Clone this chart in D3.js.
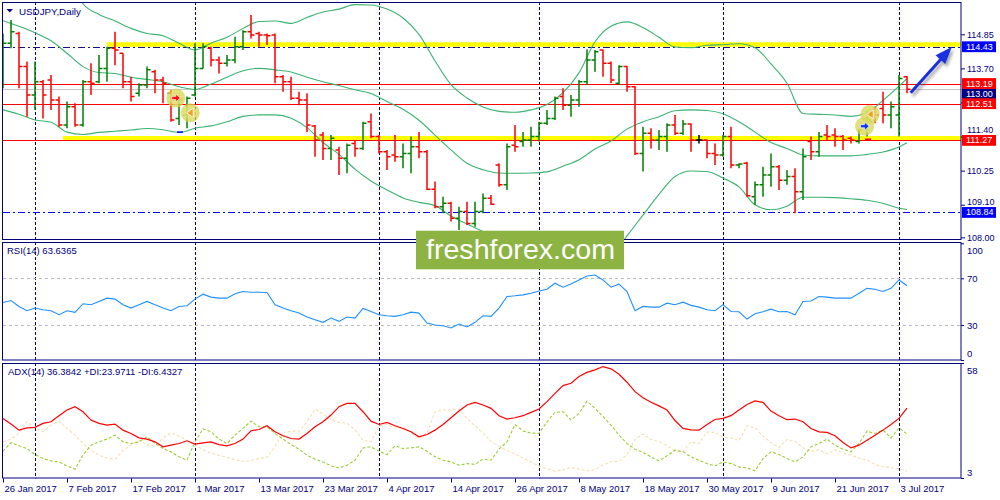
<!DOCTYPE html>
<html>
<head>
<meta charset="utf-8">
<title>USDJPY Daily</title>
<script src="https://cdn.jsdelivr.net/npm/d3@7/dist/d3.min.js"></script>
<style>
html,body{margin:0;padding:0;background:#fff;}
svg{display:block;}
text{font-family:"Liberation Sans",Arial,sans-serif;}
</style>
</head>
<body>
<svg id="chart" width="1000" height="500"></svg>
<script>
// ================= DATA =================
const chartTitle = "USDJPY,Daily";
const rsiTitle = "RSI(14) 63.6365";
const adxTitle = "ADX(14) 36.3842 +DI:23.9711 -DI:6.4327";
const watermark = "freshforex.com";

// daily OHLC, 26 Jan 2017 .. 4 Jul 2017 (one per trading day)
const opens = [113.76,114.55,114.88,113.76,112.80,113.25,113.31,112.63,111.79,112.41,
111.79,113.25,113.25,113.70,114.38,114.21,113.25,112.86,113.14,113.59,
113.31,112.86,112.01,112.13,112.80,113.70,114.38,113.98,113.87,113.98,
114.43,114.94,114.88,114.83,114.83,113.42,113.25,112.69,112.63,111.76,
111.45,111.00,110.95,110.67,111.17,111.00,111.90,111.40,110.89,110.78,
110.72,110.83,111.06,110.89,109.62,109.03,109.15,108.64,108.87,108.47,
108.87,109.32,110.44,109.77,111.11,111.23,111.28,111.40,111.85,112.01,
112.75,112.46,112.63,113.25,113.98,114.32,113.87,113.20,113.76,113.08,
110.83,111.51,111.28,111.40,111.79,111.51,111.82,111.28,111.28,110.83,
110.78,111.40,110.44,110.50,109.37,109.77,110.10,110.38,109.93,110.05,
109.54,111.23,110.89,111.45,111.45,111.40,111.34,111.23,111.73,112.30,
112.35,112.13,112.13,113.42];
const highs = [114.88,115.33,114.94,113.93,113.93,113.31,113.48,112.75,112.58,112.52,
113.31,113.87,114.15,114.43,114.94,114.21,113.42,113.20,113.76,113.65,
113.42,112.97,112.80,112.75,114.55,114.55,114.43,114.10,114.15,114.77,
114.99,115.50,114.94,114.88,114.88,113.48,113.42,112.91,112.86,111.79,
111.55,111.45,111.06,111.17,111.28,111.90,112.18,111.45,110.95,111.45,
111.17,111.40,111.55,110.95,109.88,109.37,109.20,109.03,109.20,109.20,
109.48,109.43,110.50,111.17,111.79,111.55,111.73,111.90,112.30,112.75,
113.03,112.80,113.31,114.34,114.32,114.34,113.93,113.81,113.78,113.11,
111.73,111.68,111.62,111.85,112.13,111.96,111.85,111.45,111.30,111.17,
111.45,111.73,110.50,110.55,109.88,110.38,110.83,110.44,110.27,110.33,
111.00,111.40,111.55,111.79,111.68,111.45,111.40,111.68,112.30,112.41,
112.91,112.58,113.48,113.44];
const lows = [113.03,114.38,113.03,112.07,112.30,112.01,112.30,111.73,111.68,111.73,
111.73,112.80,113.20,113.25,113.81,113.03,112.58,112.75,113.03,112.86,
112.52,111.90,111.79,111.68,112.75,113.70,113.76,113.53,113.76,113.87,
114.32,114.71,114.43,114.49,113.20,112.91,112.63,112.46,111.55,110.72,
110.61,110.61,110.10,110.16,110.72,110.95,111.34,110.83,110.27,110.55,
110.33,110.16,110.67,109.60,108.98,108.81,108.53,108.25,108.42,108.36,
108.81,109.09,109.71,109.60,110.89,111.06,111.06,111.23,111.79,111.96,
112.30,112.07,112.41,113.14,113.59,113.42,113.20,113.14,112.91,110.78,
110.22,111.00,110.95,110.89,111.45,111.45,110.89,111.17,110.67,110.44,
110.72,110.33,110.33,109.37,109.09,109.37,109.71,109.60,109.77,108.81,
109.26,110.61,110.72,111.28,111.06,110.95,111.17,111.17,111.40,111.85,
111.85,111.68,111.40,112.86];
const closes = [114.55,114.94,113.76,112.80,113.25,112.80,112.63,111.79,112.41,111.79,
113.25,113.20,113.70,114.38,114.32,113.25,112.75,113.14,113.65,113.31,
113.20,111.96,112.63,112.69,113.70,114.43,113.98,113.87,113.98,114.43,
114.94,114.83,114.83,114.80,113.42,113.25,112.69,112.63,111.79,111.28,
111.00,111.34,110.67,111.11,111.00,111.85,111.40,110.89,110.72,110.72,
110.83,111.06,110.89,109.62,109.03,109.15,108.64,108.87,108.47,108.87,
109.32,109.12,109.77,111.06,111.06,111.28,111.40,111.85,112.01,112.69,
112.46,112.63,113.25,113.98,114.26,113.87,113.31,113.76,113.08,110.83,
111.51,111.28,111.40,111.79,111.51,111.82,111.28,111.28,110.83,110.78,
111.40,110.44,110.47,109.40,109.77,110.10,110.38,109.93,110.05,109.54,
110.72,110.89,111.40,111.40,111.40,111.28,111.28,111.62,112.18,112.13,
112.13,112.41,113.36,113.00];

// time axis (bar indices of the labelled days)
const dateTickIdx = [0,8,16,24,32,40,48,56,64,72,80,88,96,104,112];
const dateTickLabels = ["26 Jan 2017","7 Feb 2017","17 Feb 2017","1 Mar 2017","13 Mar 2017",
"23 Mar 2017","4 Apr 2017","14 Apr 2017","26 Apr 2017","8 May 2017","18 May 2017",
"30 May 2017","9 Jun 2017","21 Jun 2017","3 Jul 2017"];
const monthGridIdx = [4,24,47,67,90,112];

// price scale
const priceTicks = [114.85,113.70,112.55,111.40,110.25,109.10,108.00];
const redLevels = [113.19,112.51,111.27];
const bidPrice = 113.00;
const resistanceLevel = 114.43;
const supportLevel = 108.84;
const highlightLevels = [114.43,111.27];
const highlightStartIdx = [13,7.5];

// Bollinger bands (sampled per 2 bars)
const bbIdx = [0,2,4,6,8,10,12,14,16,18,20,22,24,26,28,30,32,34,36,38,40,42,44,46,48,50,52,54,56,58,
60,62,64,66,68,70,72,74,76,78,80,82,84,86,88,90,92,94,96,98,100,102,104,106,108,110,112,113];
const bbUpper = [118.32,118.0,117.85,117.40,116.90,115.88,115.52,115.30,115.05,114.88,
114.80,114.55,114.32,114.55,114.75,115.05,115.28,115.30,115.22,115.42,
115.60,115.70,115.85,115.84,115.70,115.40,114.85,113.95,113.15,112.70,
112.40,112.25,112.22,112.30,112.48,112.88,113.55,114.60,115.12,115.27,
115.08,114.75,114.42,114.40,114.48,114.50,114.53,114.40,113.85,113.20,
112.18,112.15,112.13,112.08,112.20,112.62,113.10,113.36];
const bbMiddle = [115.31,115.12,114.90,114.63,114.21,113.76,113.56,113.53,113.40,113.33,
113.25,113.08,112.99,113.17,113.40,113.62,113.70,113.65,113.58,113.40,
113.25,113.12,112.98,112.85,112.58,112.32,111.95,111.45,110.95,110.50,
110.28,110.17,110.16,110.17,110.21,110.40,110.62,110.98,111.25,111.65,
111.90,112.07,112.27,112.30,112.28,112.17,111.90,111.55,111.20,111.00,
110.78,110.75,110.75,110.75,110.80,110.88,111.05,111.19];
const bbLower = [112.30,112.15,111.96,111.88,111.55,111.47,111.54,111.58,111.62,111.67,
111.63,111.54,111.68,111.76,111.90,112.08,112.13,112.13,112.02,111.70,
111.20,110.80,110.30,109.90,109.60,109.33,109.18,109.07,108.72,108.45,
108.20,107.95,107.85,107.80,107.75,107.70,107.50,107.25,107.35,108.05,
108.75,109.45,110.05,110.24,110.22,110.00,109.70,109.10,108.93,109.05,
109.35,109.35,109.34,109.30,109.25,109.15,108.98,108.94];

// RSI(14)
const rsiValues = [49.3,51.0,45.9,42.2,44.5,43.1,42.2,38.8,42.2,40.8,
48.2,47.4,50.2,53.0,52.2,47.4,44.5,47.4,50.2,47.4,
44.5,42.2,45.9,46.5,52.2,56.4,53.9,53.0,53.0,56.7,
58.7,58.1,58.1,57.8,47.4,44.5,42.2,40.2,36.8,34.5,
32.3,35.9,33.1,36.8,35.9,44.2,41.6,38.8,37.9,37.4,
38.8,41.0,40.2,31.7,30.0,29.4,27.4,30.8,28.3,32.3,
37.9,37.4,44.5,54.4,55.0,55.8,57.2,59.2,60.6,65.8,
62.4,65.2,68.6,72.0,72.8,68.6,62.4,65.0,58.7,42.2,
45.9,45.3,45.3,48.7,47.4,49.6,46.8,45.3,43.1,42.2,
47.4,41.6,41.3,35.1,39.6,41.3,43.6,41.3,41.6,38.8,
50.2,50.5,54.4,53.9,53.0,53.0,53.0,57.2,61.4,60.6,
58.7,61.4,68.6,63.6];
const rsiLevels = [70,30];
const rsiTicks = [100,70,30,0];

// ADX(14), +DI, -DI
const adxValues = [31.5,28.8,25.9,27.0,27.2,29.1,29.9,32.8,35.5,37.1,
34.7,30.7,29.1,28.3,28.8,25.9,24.3,22.2,21.6,20.3,
17.9,18.7,19.5,20.8,19.2,19.8,20.3,19.0,18.4,19.5,
21.6,25.6,26.2,28.0,25.1,23.2,21.9,21.6,24.3,27.5,
29.9,33.1,37.1,38.7,38.7,34.7,30.2,28.6,29.6,28.0,
26.7,25.1,22.7,23.8,25.9,28.6,31.8,35.0,37.9,39.2,
37.9,36.3,32.8,31.2,31.8,32.8,34.4,36.0,39.5,43.5,
47.2,48.3,51.5,53.5,54.7,56.3,55.2,52.6,48.8,44.3,
41.4,39.2,37.5,35.5,30.5,26.7,26.0,25.9,28.6,31.0,
31.5,32.8,35.5,38.2,39.9,39.2,35.0,32.8,30.9,31.2,
29.9,26.7,25.1,24.8,23.2,20.0,17.4,18.7,21.1,23.5,
25.9,28.6,31.5,36.4];
const plusDI = [15.8,20.0,18.4,17.1,14.2,12.3,11.2,10.7,8.8,7.2,
14.0,18.7,20.3,21.6,23.5,20.3,19.5,20.3,22.7,19.5,
17.1,15.5,13.1,11.5,20.3,26.5,25.1,21.6,19.5,23.5,
26.7,30.2,27.5,27.5,24.3,21.6,19.0,16.8,13.9,12.0,
10.7,8.8,7.8,9.1,11.5,17.4,17.9,15.8,14.2,18.4,
17.1,17.4,17.9,15.8,13.1,11.5,10.7,9.1,9.9,9.5,
12.1,11.5,16.8,20.3,28.6,25.5,24.5,24.3,29.9,34.4,
34.7,30.7,33.9,39.8,36.3,32.3,28.3,23.5,19.5,16.8,
15.2,13.1,11.2,13.6,16.3,15.5,13.1,11.5,9.9,8.8,
10.7,9.9,8.3,7.8,6.4,12.3,15.5,14.2,12.3,10.7,
13.1,17.9,19.5,21.6,18.7,16.8,15.5,19.5,25.4,24.3,
25.9,22.2,27.0,24.0];
const minusDI = [20.3,21.6,24.3,29.9,26.7,25.1,28.3,30.2,26.7,23.5,
19.5,16.3,13.9,12.6,12.0,16.3,18.7,21.0,18.8,18.5,
22.0,24.6,23.0,21.0,18.8,16.5,14.8,13.9,12.9,11.7,
11.0,11.3,12.4,12.8,18.0,24.5,25.4,25.4,29.9,36.0,
33.5,30.8,29.6,29.2,26.0,21.0,20.3,28.0,28.5,26.9,
27.5,24.6,21.8,24.5,34.7,35.5,35.5,36.0,31.5,28.0,
24.5,20.5,18.2,16.2,14.5,12.5,10.6,8.8,7.4,6.3,
6.8,8.1,7.3,6.4,7.0,9.2,10.8,11.0,14.0,21.5,
24.0,21.5,20.3,18.5,15.9,15.8,20.3,19.5,25.0,24.8,
22.5,22.2,21.0,28.0,27.0,23.0,20.0,17.5,21.5,20.5,
17.5,15.6,16.5,14.5,16.5,15.0,13.9,12.6,11.5,9.5,
8.4,8.0,7.4,6.4];
const adxTicks = [58,3];

// chart objects (trade markers and the drawn arrow)
const markerIdx = [21.6,23.4,108.4,107.7];
const markerPrice = [112.70,112.20,112.15,111.75];
const markerKind = ["buy","close","close","buy"];
const arrowFromIdx = 113.46, arrowFromPrice = 112.88;
const arrowToIdx = 118.6, arrowToPrice = 114.42;
const orderIdx = [[21.75,22.5],[107.75,108.5]];
const orderPrice = [111.55,111.31];

// ================= DRAWING =================
const NAVY = "#000080";
const FONT = "Liberation Sans, Arial, sans-serif";
const L = 3, R = 961;
const panels = { main:[2,240], rsi:[242,360.5], adx:[363,478.5] };
const n = closes.length;

const x = d3.scaleLinear().domain([0, n - 1]).range([3, 3 + 8 * (n - 1)]);
const yP = d3.scaleLinear().domain([107.91, 115.94]).range([240, 2]);
const yR = d3.scaleLinear().domain([0, 100]).range([360, 243.3]);
const yA = d3.scaleLinear().domain([3, 58]).range([478, 363]);

const svg = d3.select("#chart");
const defs = svg.append("defs");
Object.entries(panels).forEach(([k, [t, b]]) => {
  defs.append("clipPath").attr("id", "clip-" + k).append("rect")
    .attr("x", L).attr("y", t).attr("width", R - L).attr("height", b - t);
});
defs.append("filter").attr("id", "blur").attr("x", "-20%").attr("y", "-200%")
  .attr("width", "140%").attr("height", "500%")
  .append("feGaussianBlur").attr("stdDeviation", 1.4);

svg.append("rect").attr("width", 1000).attr("height", 500).attr("fill", "#fff");

// vertical month grid in all panels
const grid = svg.append("g");
Object.values(panels).forEach(([t, b]) => {
  grid.selectAll(null).data(monthGridIdx).enter().append("line")
    .attr("x1", d => x(d) + 0.5).attr("x2", d => x(d) + 0.5)
    .attr("y1", t).attr("y2", b)
    .attr("stroke", NAVY).attr("stroke-width", 1).attr("stroke-dasharray", "3,2");
});

// ---------- main panel ----------
const gm = svg.append("g").attr("clip-path", "url(#clip-main)");

// highlighted levels (yellow with soft shadow)
highlightLevels.forEach((p, k) => {
  const y0 = yP(p);
  gm.append("line").attr("x1", x(highlightStartIdx[k]) + 2).attr("x2", R)
    .attr("y1", y0 + 2.5).attr("y2", y0 + 2.5)
    .attr("stroke", "#6e6e6e").attr("stroke-width", 4).attr("opacity", 0.55)
    .attr("filter", "url(#blur)");
  gm.append("line").attr("x1", x(highlightStartIdx[k])).attr("x2", R)
    .attr("y1", y0 - 2.2).attr("y2", y0 - 2.2)
    .attr("stroke", "#ffff00").attr("stroke-width", 4.6);
});

// bid line
gm.append("line").attr("x1", L).attr("x2", R)
  .attr("y1", Math.round(yP(bidPrice)) + 0.5).attr("y2", Math.round(yP(bidPrice)) + 0.5)
  .attr("stroke", "#c8c8c8").attr("stroke-width", 1);
// red horizontal levels
gm.selectAll(null).data(redLevels).enter().append("line")
  .attr("x1", L).attr("x2", R)
  .attr("y1", d => Math.round(yP(d)) + 0.5).attr("y2", d => Math.round(yP(d)) + 0.5)
  .attr("stroke", "#ff0000").attr("stroke-width", 1.2);
// dash-dot levels
gm.append("line").attr("x1", L).attr("x2", R)
  .attr("y1", Math.round(yP(resistanceLevel)) + 0.5).attr("y2", Math.round(yP(resistanceLevel)) + 0.5)
  .attr("stroke", "#101090").attr("stroke-width", 1.2).attr("stroke-dasharray", "7,3,2,3");
gm.append("line").attr("x1", L).attr("x2", R)
  .attr("y1", Math.round(yP(supportLevel)) + 0.5).attr("y2", Math.round(yP(supportLevel)) + 0.5)
  .attr("stroke", "#0000ff").attr("stroke-width", 1.2).attr("stroke-dasharray", "7,3,2,3");

// Bollinger bands
const bbLine = arr => d3.line().x((d, k) => x(bbIdx[k])).y(d => yP(d)).curve(d3.curveMonotoneX)(arr);
[bbUpper, bbMiddle, bbLower].forEach(arr => {
  gm.append("path").attr("d", bbLine(arr)).attr("fill", "none")
    .attr("stroke", "#3cb371").attr("stroke-width", 1.1);
});

// order lines
orderIdx.forEach((pair, k) => {
  gm.append("line").attr("x1", x(pair[0])).attr("x2", x(pair[1]))
    .attr("y1", yP(orderPrice[k])).attr("y2", yP(orderPrice[k]))
    .attr("stroke", k === 0 ? "#0000ff" : "#ff0000").attr("stroke-width", 1.5);
});

// OHLC bars
gm.append("g").selectAll("path").data(d3.range(n)).enter().append("path")
  .attr("d", i => {
    const xi = x(i);
    return `M${xi},${yP(highs[i])}V${yP(lows[i])}` +
      `M${xi - 3.5},${yP(opens[i])}H${xi}` +
      `M${xi},${yP(closes[i])}H${xi + 3.5}`;
  })
  .attr("fill", "none")
  .attr("stroke", i => closes[i] > opens[i] ? "#008000" : (closes[i] < opens[i] ? "#ff0000" : "#000000"))
  .attr("stroke-width", 1.5);

// trade markers
markerIdx.forEach((mi, k) => {
  const cx = x(mi), cy = yP(markerPrice[k]);
  gm.append("circle").attr("cx", cx).attr("cy", cy).attr("r", 9.5)
    .attr("fill", "#d6d650").attr("opacity", 0.75);
  gm.append("circle").attr("cx", cx).attr("cy", cy).attr("r", 7)
    .attr("fill", "#e2e27a").attr("opacity", 0.6);
  if (markerKind[k] === "buy") {
    const col = k === 0 ? "#ff1010" : "#1030ff";
    gm.append("path")
      .attr("d", `M${cx - 4},${cy - 1.5}H${cx}V${cy - 4}L${cx + 4.5},${cy}L${cx},${cy + 4}V${cy + 1.5}H${cx - 4}Z`)
      .attr("fill", col).attr("stroke", "#ffffff").attr("stroke-width", 0.6);
  } else {
    gm.append("path")
      .attr("d", `M${cx + 3},${cy - 4.5}L${cx - 3.5},${cy}L${cx + 3},${cy + 4.5}Z`)
      .attr("fill", "#f0a020").attr("stroke", "#ffffff").attr("stroke-width", 0.8);
  }
});

// frames (thin)
Object.values(panels).forEach(([t, b]) => {
  svg.append("rect").attr("x", L - 0.5).attr("y", t + 0.5).attr("width", R - L + 0.5).attr("height", b - t - 1)
    .attr("fill", "none").attr("stroke", NAVY).attr("stroke-width", 1);
});

// blue drawn arrow
(function () {
  const x0 = x(arrowFromIdx), y0 = yP(arrowFromPrice);
  const x1 = x(arrowToIdx), y1 = yP(arrowToPrice);
  const dx = x1 - x0, dy = y1 - y0, len = Math.hypot(dx, dy);
  const ux = dx / len, uy = dy / len, px = -uy, py = ux;
  const hl = 17, hw = 6.5;
  const bx = x1 - ux * hl, by = y1 - uy * hl;
  const head = `M${x1},${y1}L${bx + px * hw},${by + py * hw}L${bx - px * hw},${by - py * hw}Z`;
  const ga = svg.append("g");
  const sh = ga.append("g").attr("transform", "translate(2,3)").attr("opacity", 0.5).attr("filter", "url(#blur)");
  sh.append("line").attr("x1", x0).attr("y1", y0).attr("x2", bx + ux * 3).attr("y2", by + uy * 3)
    .attr("stroke", "#555").attr("stroke-width", 3);
  sh.append("path").attr("d", head).attr("fill", "#555");
  ga.append("line").attr("x1", x0).attr("y1", y0).attr("x2", bx + ux * 3).attr("y2", by + uy * 3)
    .attr("stroke", "#1a30e0").attr("stroke-width", 3);
  ga.append("path").attr("d", head).attr("fill", "#1a30e0");
})();

// price axis
const ya = svg.append("g").attr("transform", `translate(${R},0)`)
  .call(d3.axisRight(yP).tickValues(priceTicks).tickSize(4).tickSizeOuter(0).tickPadding(2)
    .tickFormat(d3.format(".2f")));
ya.select(".domain").remove();
ya.selectAll("line").attr("stroke", NAVY);
ya.attr("font-size", "9px").attr("font-family", FONT);
// labels that sit behind a price box are lifted just above it
const boxPrices = [bidPrice, resistanceLevel, supportLevel].concat(redLevels);
ya.selectAll("text").attr("fill", NAVY).attr("y", d => {
  const hit = boxPrices.filter(p => p !== bidPrice && Math.abs(yP(p) - yP(d)) < 10.5 && yP(p) > yP(d) && d !== 112.55);
  return hit.length ? (yP(hit[0]) - 10.6) - yP(d) : 0;
});

// price label boxes (box of the bid sits just below the 113.19 box)
const boxFills = ["#000080", "#0000ff", "#0000ff", "#ff0000", "#ff0000", "#ff0000"];
boxPrices.forEach((p, k) => {
  const cy = p === bidPrice ? yP(redLevels[0]) + 10.4 : yP(p);
  svg.append("rect").attr("x", R + 1).attr("y", cy - 5.4).attr("width", 34).attr("height", 10.8)
    .attr("fill", boxFills[k]);
  svg.append("text").attr("x", R + 5).attr("y", cy).attr("dy", "0.34em")
    .attr("font-size", "9px").attr("font-family", FONT).attr("fill", "#ffffff").text(d3.format(".2f")(p));
});

// ---------- RSI panel ----------
const gr = svg.append("g").attr("clip-path", "url(#clip-rsi)");
gr.selectAll(null).data(rsiLevels).enter().append("line")
  .attr("x1", L).attr("x2", R).attr("y1", d => Math.round(yR(d)) + 0.5).attr("y2", d => Math.round(yR(d)) + 0.5)
  .attr("stroke", "#b8b8b8").attr("stroke-dasharray", "3,3");
gr.append("path").datum(rsiValues)
  .attr("d", d3.line().x((d, i) => x(i)).y(d => yR(d)))
  .attr("fill", "none").attr("stroke", "#1e90ff").attr("stroke-width", 1.1);
svg.append("text").attr("x", 7).attr("y", 254).attr("font-size", "9.5px").attr("fill", NAVY).text(rsiTitle);
const ra = svg.append("g").attr("transform", `translate(${R},0)`)
  .call(d3.axisRight(yR).tickValues(rsiTicks).tickSize(3).tickSizeOuter(0).tickPadding(3).tickFormat(d3.format("d")));
ra.select(".domain").remove();
ra.selectAll("line").attr("stroke", NAVY);
ra.attr("font-size", "9.5px").attr("font-family", FONT);
ra.selectAll("text").attr("fill", NAVY)
  .attr("y", d => d === 100 ? 6.7 : (d === 0 ? -6.7 : 0));

// ---------- ADX panel ----------
const gx = svg.append("g").attr("clip-path", "url(#clip-adx)");
const adxLine = d3.line().x((d, i) => x(i)).y(d => yA(d));
gx.append("path").datum(minusDI).attr("d", adxLine).attr("fill", "none")
  .attr("stroke", "#f5deb3").attr("stroke-width", 1.1).attr("stroke-dasharray", "3,2");
gx.append("path").datum(plusDI).attr("d", adxLine).attr("fill", "none")
  .attr("stroke", "#9acd32").attr("stroke-width", 1.1).attr("stroke-dasharray", "3,2");
gx.append("path").datum(adxValues).attr("d", adxLine).attr("fill", "none")
  .attr("stroke", "#ff0000").attr("stroke-width", 1.2);
svg.append("text").attr("x", 8).attr("y", 375).attr("font-size", "9.5px").attr("fill", NAVY).text(adxTitle);
const aa = svg.append("g").attr("transform", `translate(${R},0)`)
  .call(d3.axisRight(yA).tickValues(adxTicks).tickSize(3).tickSizeOuter(0).tickPadding(3).tickFormat(d3.format("d")));
aa.select(".domain").remove();
aa.selectAll("line").attr("stroke", NAVY);
aa.attr("font-size", "9.5px").attr("font-family", FONT);
aa.selectAll("text").attr("fill", NAVY).attr("y", d => d === 58 ? 7 : -5.3);

// ---------- time axis ----------
const xa = svg.append("g").attr("transform", `translate(0,${panels.adx[1]})`)
  .call(d3.axisBottom(x).tickValues(dateTickIdx).tickSize(4).tickSizeOuter(0).tickPadding(3)
    .tickFormat((d, k) => dateTickLabels[k]));
xa.select(".domain").remove();
xa.selectAll("line").attr("stroke", NAVY);
xa.attr("font-size", "9.5px").attr("font-family", FONT);
xa.selectAll("text").attr("fill", NAVY).attr("text-anchor", "start").attr("x", 1);

// ---------- title ----------
svg.append("path").attr("d", "M6.5,9H13L9.75,12.5Z").attr("fill", NAVY);
svg.append("text").attr("x", 19).attr("y", 15).attr("font-size", "9.8px").attr("fill", NAVY).text(chartTitle);

// ---------- watermark ----------
svg.append("rect").attr("x", 416).attr("y", 230.7).attr("width", 208).attr("height", 38.6).attr("fill", "#8db443");
svg.append("text").attr("x", 426).attr("y", 259.3)
  .attr("font-family", "'Open Sans', 'Noto Sans', sans-serif").attr("font-size", "28px")
  .attr("fill", "#ffffff").attr("textLength", 189).attr("lengthAdjust", "spacingAndGlyphs")
  .text(watermark);
</script>
</body>
</html>
